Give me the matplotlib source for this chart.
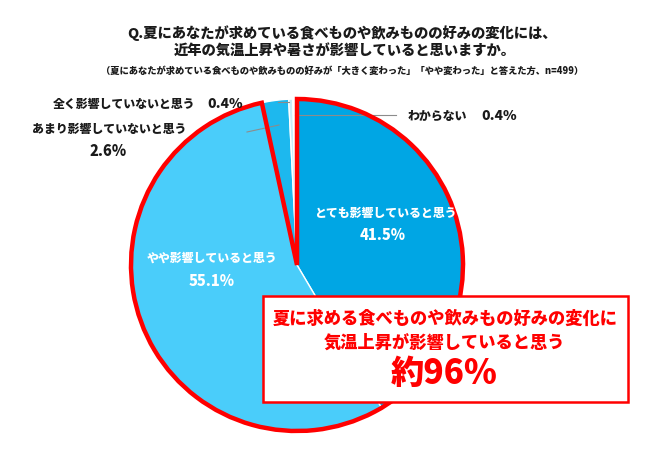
import matplotlib
matplotlib.use("Agg")
import matplotlib.pyplot as plt
from matplotlib.patches import Wedge, Rectangle

plt.rcParams["font.family"] = ["Noto Sans CJK JP", "DejaVu Sans"]
plt.rcParams["font.weight"] = "heavy"

# data
categories = ["とても影響していると思う", "やや影響していると思う",
              "あまり影響していないと思う", "全く影響していないと思う", "わからない"]
shares = [41.5, 55.1, 2.6, 0.4, 0.4]
slice_colors = ["#00A6E4", "#4ACDFA", "#1DB8EE", "#C8ECF9", "#FFFFFF"]

title_lines = ["Q.夏にあなたが求めている食べものや飲みものの好みの変化には、",
               "近年の気温上昇や暑さが影響していると思いますか。"]
subtitle = "（夏にあなたが求めている食べものや飲みものの好みが「大きく変わった」「やや変わった」と答えた方、n=499）"
callout_lines = ["夏に求める食べものや飲みもの好みの変化に", "気温上昇が影響していると思う"]
callout_value = "約96%"

W, H = 650, 450
cx, cy, R = 297, 265, 166   # pie centre / radius in pixels


def fx(px):
    return px / W


def fy(py):
    return 1 - py / H


def to_data(px, py):
    return (px - cx) / R, (cy - py) / R


fig = plt.figure(figsize=(6.5, 4.5), dpi=100)
ax = fig.add_axes([fx(cx - R), fy(cy + R), 2 * R / W, 2 * R / H])

wedges, _ = ax.pie(shares, colors=slice_colors, startangle=90, counterclock=False,
                   radius=1, wedgeprops=dict(edgecolor="white", linewidth=1.0))
for w in wedges:
    w.set_zorder(1)
    w.set_clip_on(False)
ax.set_xlim(-1, 1)
ax.set_ylim(-1, 1)
ax.set_aspect("auto")
ax.axis("off")

# red outline around the "affected" group (first two slices)
affected = shares[0] + shares[1]
outline = Wedge((0, 0), 1.0, 90 - 360 * affected / 100 + 360, 450,
                fill=False, edgecolor="#FF0000", linewidth=3.2, zorder=4,
                joinstyle="miter")
outline.set_clip_on(False)
ax.add_patch(outline)

# leader lines for small slices
leaders = [
    ((247, 132), (279, 125)),   # あまり
    ((278, 102), (289, 102)),   # 全く
    ((295, 115), (396, 115)),   # わからない
]
for (p0, p1) in leaders:
    x0, y0 = to_data(*p0)
    x1, y1 = to_data(*p1)
    ax.plot([x0, x1], [y0, y1], color="#8C8C8C", lw=0.8, zorder=3, clip_on=False)

# titles
fig.text(fx(342), fy(33), title_lines[0], ha="center", va="center", fontsize=10.3, color="#1A1A1A")
fig.text(fx(345), fy(52), title_lines[1], ha="center", va="center", fontsize=10.3, color="#1A1A1A")
fig.text(fx(342), fy(71), subtitle, ha="center", va="center", fontsize=6.7, color="#1A1A1A")

# inside labels
fig.text(fx(385), fy(213), categories[0], ha="center", va="center", fontsize=8.6, color="white", zorder=2)
fig.text(fx(383), fy(235), f"{shares[0]:.1f}%", ha="center", va="center", fontsize=10.5, color="white", zorder=2)
fig.text(fx(212), fy(258), categories[1], ha="center", va="center", fontsize=8.6, color="white", zorder=2)
fig.text(fx(212), fy(282), f"{shares[1]:.1f}%", ha="center", va="center", fontsize=10.5, color="white", zorder=2)

# outside labels
fig.text(fx(53), fy(104), categories[3], ha="left", va="center", fontsize=8.6, color="#1A1A1A")
fig.text(fx(243), fy(104), f"{shares[3]:.1f}%", ha="right", va="center", fontsize=10, color="#1A1A1A")
fig.text(fx(32), fy(129), categories[2], ha="left", va="center", fontsize=8.6, color="#1A1A1A")
fig.text(fx(108), fy(151), f"{shares[2]:.1f}%", ha="center", va="center", fontsize=10.5, color="#1A1A1A")
fig.text(fx(408), fy(116), categories[4], ha="left", va="center", fontsize=8.6, color="#1A1A1A")
fig.text(fx(517), fy(116), f"{shares[4]:.1f}%", ha="right", va="center", fontsize=10, color="#1A1A1A")

# callout box
box = Rectangle((fx(263), fy(402)), fx(628) - fx(263), fy(296) - fy(402),
                transform=fig.transFigure, facecolor="white", edgecolor="#FF0000",
                linewidth=1.8, zorder=5)
fig.add_artist(box)
fig.text(fx(445), fy(319), callout_lines[0], ha="center", va="center", fontsize=12.4, color="#FF0000", zorder=6)
fig.text(fx(445), fy(343), callout_lines[1], ha="center", va="center", fontsize=12.4, color="#FF0000", zorder=6)
fig.text(fx(444), fy(373), callout_value, ha="center", va="center", fontsize=24, color="#FF0000", zorder=6)

fig.savefig("out.png", dpi=100)
